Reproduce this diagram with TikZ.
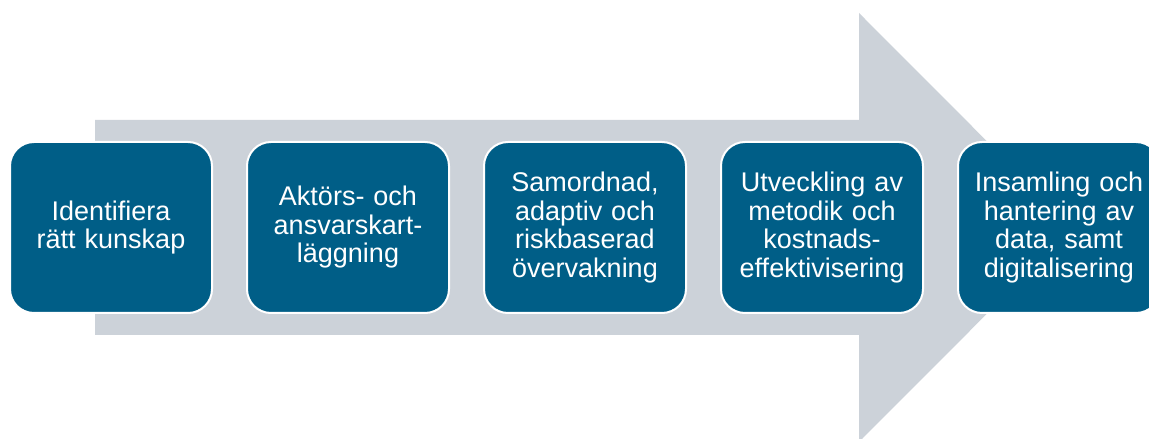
\documentclass[tikz,border=0pt]{standalone}
\usepackage{fontspec}
\setmainfont{Liberation Sans}
\usetikzlibrary{positioning}
\definecolor{stepblue}{RGB}{0,94,135}
\definecolor{arrowgrey}{RGB}{204,210,217}

\begin{document}
\begin{tikzpicture}[x=1pt,y=1pt,
   node distance=33pt,
   stepbox/.style={rectangle,rounded corners=24pt,draw=white,line width=2pt,
               fill=stepblue,minimum width=202pt,minimum height=171pt,
               text width=196pt,align=center,inner sep=0pt,text=white,
               font=\fontsize{27}{28.5}\selectfont}]
  \useasboundingbox (0,0) rectangle (1149,439);

  % grey arrow behind the steps
  \fill[arrowgrey] (95,104) -- (859,104) -- (859,-3) -- (1073,211.5)
                   -- (859,426) -- (859,319) -- (95,319) -- cycle;

  % the five steps, left to right
  \node[stepbox] (s1) at (111,211.5) {Identifiera\\rätt kunskap};
  \node[stepbox,right=of s1] (s2) {Aktörs- och\\ansvarskart-\\läggning};
  \node[stepbox,right=of s2] (s3) {Samordnad,\\adaptiv och\\riskbaserad\\övervakning};
  \node[stepbox,right=of s3] (s4) {Utveckling av\\metodik och\\kostnads-\\effektivisering};
  \node[stepbox,right=of s4] (s5) {Insamling och\\hantering av\\data, samt\\digitalisering};
\end{tikzpicture}
\end{document}
